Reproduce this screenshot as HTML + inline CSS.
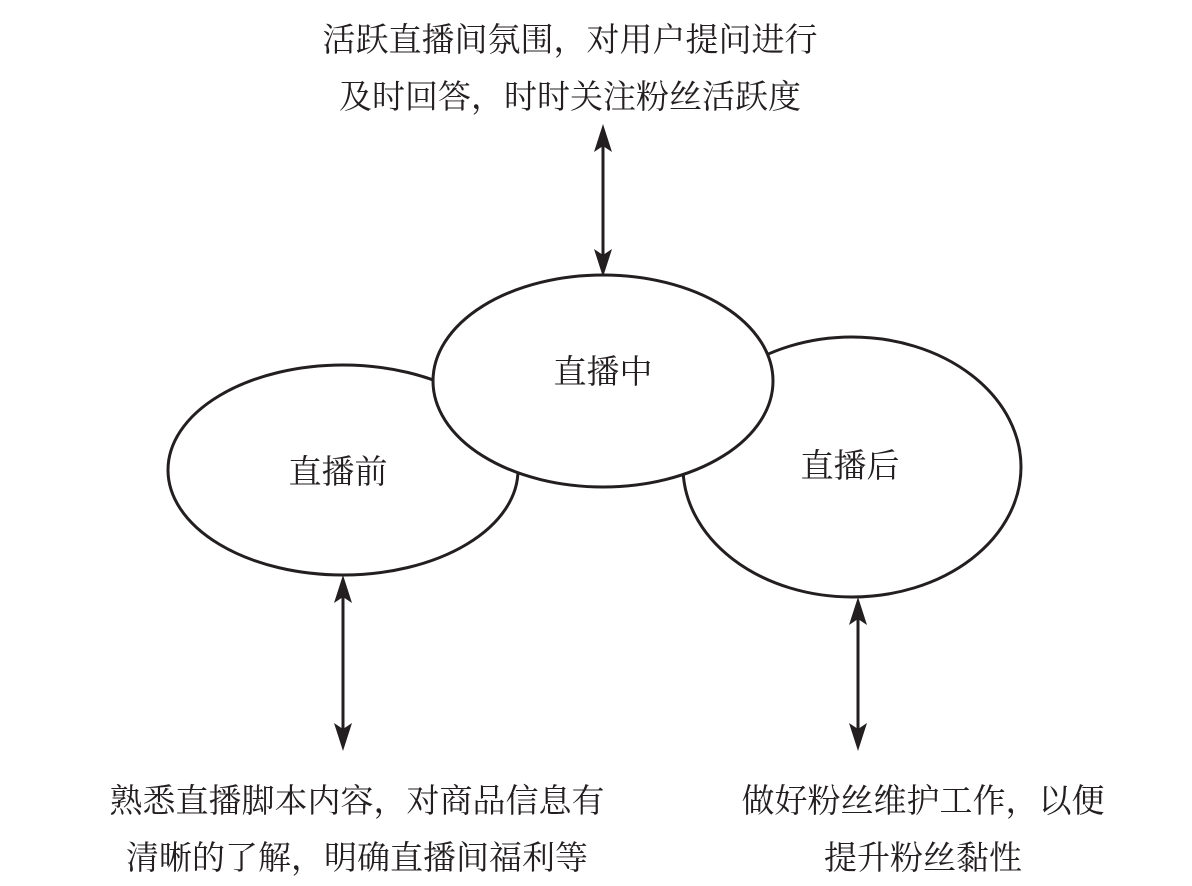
<!DOCTYPE html>
<html><head><meta charset="utf-8"><style>
html,body{margin:0;padding:0;background:#fff;}
svg{display:block;}
text{font-family:"Liberation Serif","Noto Serif CJK SC",serif;font-size:33px;fill:#231f20;text-anchor:middle;}
</style></head><body>
<svg width="1192" height="886" viewBox="0 0 1192 886" xmlns="http://www.w3.org/2000/svg">
<ellipse cx="343" cy="470" rx="175" ry="105" fill="#fff" stroke="#231f20" stroke-width="3"/>
<ellipse cx="852" cy="467" rx="169" ry="130" fill="#fff" stroke="#231f20" stroke-width="3"/>
<ellipse cx="603" cy="381" rx="170" ry="106" fill="#fff" stroke="#231f20" stroke-width="3"/>
<text x="603" y="383">直播中</text>
<text x="338" y="483">直播前</text>
<text x="850" y="477">直播后</text>
<g stroke="#231f20" stroke-width="3">
<line x1="603" y1="140" x2="603" y2="262"/>
<line x1="343" y1="590" x2="343" y2="737"/>
<line x1="858" y1="612" x2="858" y2="737"/>
</g>
<g fill="#231f20">
<polygon points="603,124 594,152 603,146 612,152"/>
<polygon points="603,277 594,249 603,255 612,249"/>
<polygon points="343,575 334,603 343,597 352,603"/>
<polygon points="343,751 334,723 343,729 352,723"/>
<polygon points="858,597 849,625 858,619 867,625"/>
<polygon points="858,751 849,723 858,729 867,723"/>
</g>
<text x="570" y="51">活跃直播间氛围，对用户提问进行</text>
<text x="570" y="108">及时回答，时时关注粉丝活跃度</text>
<text x="357" y="812">熟悉直播脚本内容，对商品信息有</text>
<text x="357" y="869">清晰的了解，明确直播间福利等</text>
<text x="923" y="812">做好粉丝维护工作，以便</text>
<text x="923" y="869">提升粉丝黏性</text>
</svg>
</body></html>
